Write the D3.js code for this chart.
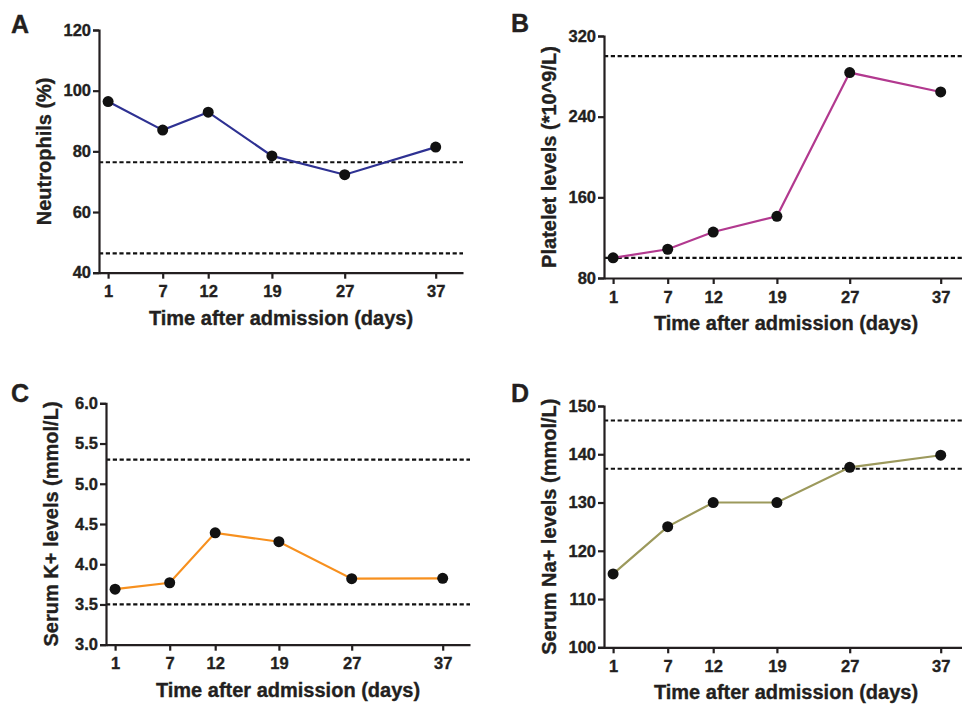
<!DOCTYPE html>
<html>
<head>
<meta charset="utf-8">
<script src="https://cdn.jsdelivr.net/npm/d3@7"></script>
<style>
  html, body { margin: 0; padding: 0; background: #fff; }
  svg { display: block; }
  text { font-family: "Liberation Sans", Arial, Helvetica, sans-serif; font-weight: bold; fill: #231f20; stroke: #231f20; stroke-width: 0.35px; }
</style>
</head>
<body>
<svg id="chart" width="962" height="706"></svg>
<script>
// ---- data ----
const days = [1, 7, 12, 19, 27, 37];
const xTickLabels = ["1", "7", "12", "19", "27", "37"];
const xTitle = "Time after admission (days)";

const neutrophils = [96.4, 87.0, 92.9, 78.5, 72.3, 81.4];
const neutrophilRef = [76.4, 46.4];
const neutrophilTicks = [40, 60, 80, 100, 120];

const platelets = [100, 108.5, 125.6, 141.2, 283.7, 264.5];
const plateletRef = [300, 100];
const plateletTicks = [80, 160, 240, 320];

const potassium = [3.69, 3.77, 4.39, 4.28, 3.82, 3.825];
const potassiumRef = [5.3, 3.5];
const potassiumTicks = [3.0, 3.5, 4.0, 4.5, 5.0, 5.5, 6.0];

const sodium = [115.2, 125, 130, 130, 137.3, 139.8];
const sodiumRef = [147, 137];
const sodiumTicks = [100, 110, 120, 130, 140, 150];

const panels = [
  { letter: "A", values: neutrophils, refs: neutrophilRef, ticks: neutrophilTicks, yDomain: [40, 120],
    fmt: d3.format("d"), yTitle: "Neutrophils (%)", color: "#2e3192",
    x0: 99, x1: 463, y0: 272.7, y1: 30, lx: 11, ly: 33 },
  { letter: "B", values: platelets, refs: plateletRef, ticks: plateletTicks, yDomain: [80, 320],
    fmt: d3.format("d"), yTitle: "Platelet levels (*10^9/L)", color: "#b2398f",
    x0: 604, x1: 968, y0: 278, y1: 36, lx: 511, ly: 32 },
  { letter: "C", values: potassium, refs: potassiumRef, ticks: potassiumTicks, yDomain: [3, 6],
    fmt: d3.format(".1f"), yTitle: "Serum K+ levels (mmol/L)", color: "#f7901e",
    x0: 106, x1: 470, y0: 644.7, y1: 403.3, lx: 11, ly: 402 },
  { letter: "D", values: sodium, refs: sodiumRef, ticks: sodiumTicks, yDomain: [100, 150],
    fmt: d3.format("d"), yTitle: "Serum Na+ levels (mmol/L)", color: "#9c995c",
    x0: 604, x1: 968, y0: 647.3, y1: 406, lx: 511, ly: 402 }
];

const svg = d3.select("#chart");

panels.forEach(p => {
  const g = svg.append("g");
  const x = d3.scaleLinear().domain([0, 40]).range([p.x0, p.x1]);
  const y = d3.scaleLinear().domain(p.yDomain).range([p.y0, p.y1]);

  // reference (dashed) lines
  g.selectAll("line.ref").data(p.refs).join("line")
    .attr("class", "ref")
    .attr("x1", x(0)).attr("x2", x(40))
    .attr("y1", d => y(d)).attr("y2", d => y(d))
    .attr("stroke", "#111").attr("stroke-width", 2.2)
    .attr("stroke-dasharray", "4.2,2.6");

  // y axis
  const ya = g.append("g").attr("transform", `translate(${p.x0},0)`)
    .call(d3.axisLeft(y).tickValues(p.ticks).tickFormat(p.fmt).tickSize(6).tickSizeOuter(6).tickPadding(2));
  // x axis
  const xa = g.append("g").attr("transform", `translate(0,${p.y0})`)
    .call(d3.axisBottom(x).tickValues(days).tickFormat((d, i) => xTickLabels[i]).tickSize(6).tickSizeOuter(0).tickPadding(7));

  [ya, xa].forEach(a => {
    a.attr("font-size", 16.5);
    a.selectAll("path.domain").attr("stroke", "#231f20").attr("stroke-width", 2.2);
    a.selectAll(".tick line").attr("stroke", "#231f20").attr("stroke-width", 2.2);
    a.selectAll(".tick text").attr("font-size", 16.5).attr("fill", "#231f20")
      .attr("font-family", "Liberation Sans, Arial, sans-serif").attr("font-weight", "bold");
  });

  // data line
  const pts = days.map((d, i) => [d, p.values[i]]);
  g.append("path").datum(pts)
    .attr("fill", "none").attr("stroke", p.color).attr("stroke-width", 2.2)
    .attr("d", d3.line().x(d => x(d[0])).y(d => y(d[1])));

  g.selectAll("circle").data(pts).join("circle")
    .attr("cx", d => x(d[0])).attr("cy", d => y(d[1])).attr("r", 5.5)
    .attr("fill", "#111");

  // titles
  g.append("text")
    .attr("x", (x(0) + x(40)) / 2).attr("y", p.y0 + 52)
    .attr("text-anchor", "middle").attr("font-size", 20)
    .text(xTitle);

  g.append("text")
    .attr("transform", `translate(${p.x0 - 48},${(p.y0 + p.y1) / 2}) rotate(-90)`)
    .attr("text-anchor", "middle").attr("font-size", 20)
    .text(p.yTitle);

  g.append("text")
    .attr("x", p.lx).attr("y", p.ly)
    .attr("font-size", 25)
    .text(p.letter);
});
</script>
</body>
</html>
